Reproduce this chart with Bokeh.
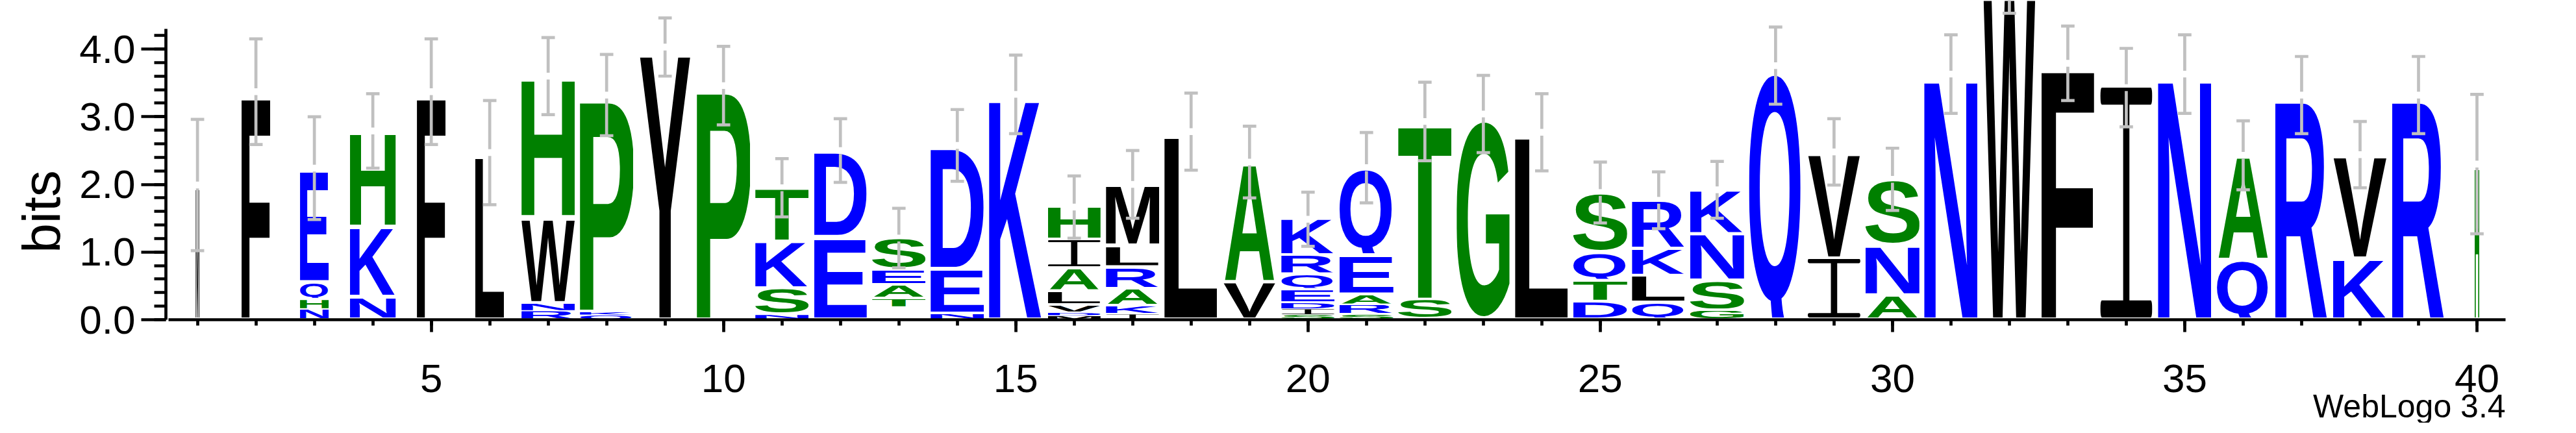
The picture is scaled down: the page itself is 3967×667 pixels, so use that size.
import base64
from bokeh.plotting import figure
from bokeh.models import ColumnDataSource, Range1d, FixedTicker, PrintfTickFormatter, Label
from bokeh.embed import file_html
from bokeh.resources import INLINE

# ---------------- data ----------------
positions = [1, 2, 3, 4, 5, 6, 7, 8, 9, 10, 11, 12, 13, 14, 15, 16, 17, 18, 19, 20,
             21, 22, 23, 24, 25, 26, 27, 28, 29, 30, 31, 32, 33, 34, 35, 36, 37, 38, 39, 40]

# letters of each stack, from the bottom up ("-" = empty slot)
stack_letters = ["M", "F", "NHQE", "NKH", "F", "L", "RNWH", "QKP", "Y", "P",
                 "NSKT", "ED", "-TAES", "NED", "K", "MDVLAIH", "IKARLM", "L", "VA", "SIDEQRK",
                 "SRAEQ", "ST", "G", "L", "DTQS", "QLKR", "GSNK", "Q", "IV", "ANS",
                 "N", "W", "F", "I", "N", "QA", "R", "KV", "R", "H"]

# bits of each letter, same order
stack_bits = [
    [1.99], [3.37], [0.15, 0.14, 0.26, 1.69], [0.33, 1.04, 1.42], [3.37],
    [2.47], [0.125, 0.115, 1.27, 2.09], [0.07, 0.04, 3.21], [4.03], [3.46],
    [0.07, 0.39, 0.69, 0.80], [1.22, 1.28], [0.18, 0.127, 0.20, 0.23, 0.47],
    [0.086, 0.66, 1.83], [3.33],
    [0.06, 0.045, 0.11, 0.20, 0.34, 0.42, 0.49], [0.08, 0.12, 0.25, 0.32, 0.32, 0.91],
    [2.78], [0.55, 1.78], [0.07, 0.085, 0.09, 0.19, 0.23, 0.28, 0.54],
    [0.077, 0.14, 0.15, 0.58, 1.30], [0.29, 2.64], [3.04], [2.77],
    [0.26, 0.31, 0.42, 0.89], [0.245, 0.40, 0.40, 0.72], [0.13, 0.44, 0.69, 0.66],
    [3.755], [0.90, 1.58], [0.355, 0.74, 0.98],
    [3.63], [5.09], [3.79], [3.43], [3.63], [0.88, 1.55], [3.32], [0.90, 1.54], [3.32], [2.30],
]

# stack widths (occupancy-scaled), in position units
stack_widths = [0.065, 0.49, 0.49, 0.78, 0.49, 0.50, 0.91, 0.91, 0.90, 0.91,
                0.91, 0.90, 0.91, 0.91, 0.91, 0.90, 0.91, 0.91, 0.90, 0.91,
                0.92, 0.91, 0.91, 0.91, 0.92, 0.91, 0.92, 0.91, 0.90, 0.92,
                0.91, 0.89, 0.90, 0.89, 0.91, 0.90, 0.91, 0.92, 0.91, 0.08]

# half-length of the error bar at the top of each stack (bits)
error_bits = [0.97, 0.78, 0.76, 0.55, 0.78, 0.77, 0.57, 0.60, 0.43, 0.58,
              0.43, 0.47, 0.44, 0.53, 0.58, 0.46, 0.50, 0.57, 0.53, 0.40,
              0.52, 0.58, 0.57, 0.57, 0.45, 0.42, 0.42, 0.57, 0.49, 0.46,
              0.58, 0.56, 0.55, 0.58, 0.58, 0.51, 0.57, 0.49, 0.57, 1.03]

x_major_ticks = [5, 10, 15, 20, 25, 30, 35, 40]
y_major_ticks = [0, 1, 2, 3, 4]
y_minor_ticks = [0.0, 0.2, 0.4, 0.6, 0.8, 1.0, 1.2, 1.4, 1.6, 1.8, 2.0, 2.2,
                 2.4, 2.6, 2.8, 3.0, 3.2, 3.4, 3.6, 3.8, 4.0, 4.2]
y_label = "bits"
credit = "WebLogo 3.4"

# hydrophobicity colour scheme
hydrophilic = "RKDENQ"
neutral = "SGHTAP"
hydrophobic = "YVMCLFIW"
BLUE, GREEN, BLACK = "#0000FF", "#008000", "#000000"
ERR_COLOR = "#C0C0C0"


def letter_color(ch):
    if ch in hydrophilic:
        return BLUE
    if ch in neutral:
        return GREEN
    return BLACK


# ink bounding boxes of bold sans capitals (1000 units/em): xmin, xmax, ymin, ymax
GLYPH_BOX = {
    "A": (0, 722, 0, 716), "C": (45, 690, -14, 730), "D": (73, 685, 0, 716),
    "E": (73, 623, 0, 716), "F": (73, 575, 0, 716), "G": (45, 722, -14, 730),
    "H": (73, 649, 0, 716), "K": (75, 730, 0, 716), "L": (75, 588, 0, 716),
    "M": (70, 763, 0, 716), "N": (73, 649, 0, 716), "P": (73, 626, 0, 716),
    "Q": (40, 760, -57, 730), "R": (73, 720, 0, 716), "S": (33, 628, -14, 730),
    "T": (22, 590, 0, 716), "V": (0, 667, 0, 716), "W": (3, 941, 0, 716),
    "Y": (0, 667, 0, 716),
}


def glyph_url(ch, color):
    if ch == "I":
        body = (f'<rect x="0" y="0" width="100" height="7.4" rx="3" ry="3.7" fill="{color}"/>'
                f'<rect x="44" y="4" width="12" height="92" fill="{color}"/>'
                f'<rect x="0" y="92.6" width="100" height="7.4" rx="3" ry="3.7" fill="{color}"/>')
        svg = ('<svg xmlns="http://www.w3.org/2000/svg" width="300" height="600" '
               f'viewBox="0 0 100 100" preserveAspectRatio="none">{body}</svg>')
    else:
        x0, x1, y0, y1 = GLYPH_BOX[ch]
        w, h = x1 - x0, y1 - y0
        svg = ('<svg xmlns="http://www.w3.org/2000/svg" '
               f'width="{w}" height="{h}" viewBox="{x0} {-y1} {w} {h}" preserveAspectRatio="none">'
               '<text x="0" y="0" font-family="Liberation Sans, Arial, Helvetica, sans-serif" '
               f'font-weight="bold" font-size="1000" fill="{color}">{ch}</text></svg>')
    return "data:image/svg+xml;base64," + base64.b64encode(svg.encode()).decode()


url_cache = {}
lx, ly, lw, lh, lurl = [], [], [], [], []
tops = []
for pos, letters, bits, width in zip(positions, stack_letters, stack_bits, stack_widths):
    base = 0.0
    for ch, b in zip(letters, bits):
        if ch != "-":
            gap = min(0.035, 0.15 * b)
            if ch not in url_cache:
                url_cache[ch] = glyph_url(ch, letter_color(ch))
            lx.append(pos - width / 2)
            ly.append(base + gap)
            lw.append(width)
            lh.append(b - gap)
            lurl.append(url_cache[ch])
        base += b
    tops.append(base)

letters_src = ColumnDataSource(data=dict(url=lurl, x=lx, y=ly, w=lw, h=lh))

# error bars: two arms with a small gap around the stack top, caps at the ends
GAP = 0.05
CAP = 0.115
ex0, ey0, ex1, ey1 = [], [], [], []
cx0, cy0, cx1, cy1 = [], [], [], []
for pos, t, e in zip(positions, tops, error_bits):
    ex0 += [pos, pos]
    ey0 += [t + GAP, t - GAP]
    ex1 += [pos, pos]
    ey1 += [t + e, t - e]
    cx0 += [pos - CAP, pos - CAP]
    cx1 += [pos + CAP, pos + CAP]
    cy0 += [t + e, t - e]
    cy1 += [t + e, t - e]

# ---------------- figure ----------------
p = figure(width=3898, height=651,
           x_range=Range1d(0.46, 40.6), y_range=Range1d(-1.525, 4.72),
           output_backend="svg", toolbar_location=None,
           min_border_left=255, min_border_right=30,
           min_border_top=0, min_border_bottom=0)
p.outline_line_color = None
p.xgrid.visible = False
p.ygrid.visible = False
p.background_fill_color = "white"
p.border_fill_color = "white"

p.image_url(url="url", x="x", y="y", w="w", h="h", anchor="bottom_left", source=letters_src)
p.segment(x0=ex0, y0=ey0, x1=ex1, y1=ey1, line_color=ERR_COLOR, line_width=4.7)
p.segment(x0=cx0, y0=cy0, x1=cx1, y1=cy1, line_color=ERR_COLOR, line_width=4.7)

xa = p.xaxis[0]
ya = p.yaxis[0]
for ax in (xa, ya):
    ax.axis_line_width = 4.7
    ax.axis_line_color = "black"
    ax.major_tick_line_width = 4.7
    ax.minor_tick_line_width = 4.7
    ax.major_tick_line_color = "black"
    ax.minor_tick_line_color = "black"
    ax.major_tick_in = 0
    ax.minor_tick_in = 0
    ax.major_label_text_font = "Liberation Sans"
    ax.major_label_text_font_size = "62px"
    ax.major_label_text_color = "black"

xa.fixed_location = 0
xa.ticker = FixedTicker(ticks=x_major_ticks, minor_ticks=positions)
xa.major_tick_out = 19
xa.minor_tick_out = 9
xa.major_label_standoff = 50
xa.bounds = (0.5, 40.49)

ya.ticker = FixedTicker(ticks=y_major_ticks, minor_ticks=y_minor_ticks)
ya.formatter = PrintfTickFormatter(format="%.1f")
ya.major_tick_out = 38
ya.minor_tick_out = 18
ya.major_label_standoff = 9
ya.bounds = (0, 4.3)
ya.axis_label = y_label
ya.axis_label_text_font = "Liberation Sans"
ya.axis_label_text_font_size = "82px"
ya.axis_label_text_font_style = "normal"
ya.axis_label_text_color = "black"
ya.axis_label_standoff = 10

p.add_layout(Label(x=40.49, y=26, x_units="data", y_units="screen", text=credit,
                   text_align="right", text_baseline="alphabetic",
                   text_font="Liberation Sans", text_font_size="50px", text_color="black"))

open("out.html", "w").write(file_html(p, INLINE))
